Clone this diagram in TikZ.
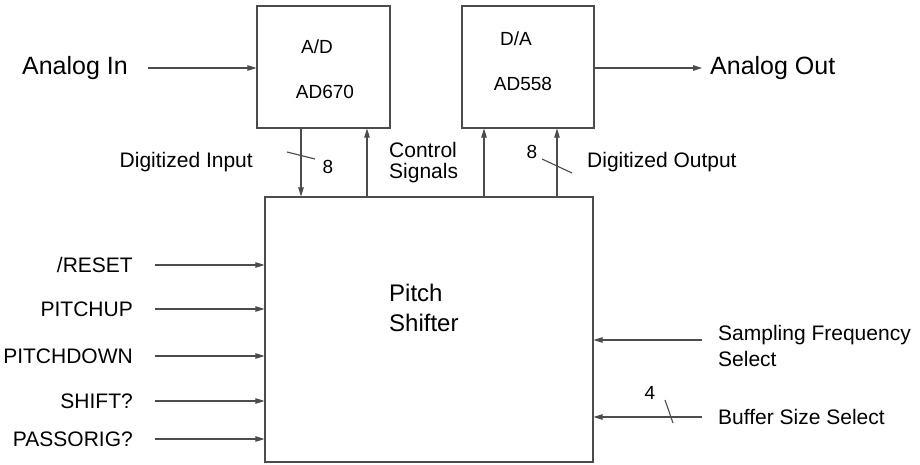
\documentclass[tikz,border=0pt]{standalone}
\usepackage{fontspec}
\setmainfont{Liberation Sans}
\usetikzlibrary{arrows.meta,positioning}

\begin{document}
\begin{tikzpicture}[x=1pt, y=-1pt,
    block/.style={draw=black!70, line width=1.1pt, inner sep=0pt},
    arr/.style={-{Triangle[length=9pt,width=5.5pt]}, line width=1.1pt, draw=black!70},
    bus/.style={line width=1.1pt, draw=black!70},
    sig/.style={font=\fontsize{21}{26}\selectfont, text=black, inner sep=0pt},
    big/.style={font=\fontsize{25}{28}\selectfont, text=black, inner sep=0pt},
    chip/.style={font=\fontsize{19}{22}\selectfont, text=black, inner sep=0pt}
]
\useasboundingbox (0,0) rectangle (920,465);

% converter chips and the main block
\node[block, minimum width=133pt, minimum height=122pt] (ad) at (323.5,67) {};
\node[block, minimum width=132pt, minimum height=122pt] (da) at (528,67) {};
\node[block, minimum width=328pt, minimum height=265pt] (ps) at (429,329.5) {};

\node[chip] (adname) at (317,46.5) {A/D};
\node[chip] (adpart) at (325,91.5) {AD670};
\node[chip] (daname) at (516,39) {D/A};
\node[chip] (dapart) at (523,84) {AD558};
\node[font=\fontsize{24}{30}\selectfont, text=black, inner sep=0pt, align=left, anchor=west] (psname) at (389,308) {Pitch\\Shifter};

% analog path
\node[big, anchor=east, inner xsep=20pt] (ain) at (148,68) {Analog In};
\draw[arr] (ain) -- (ain -| ad.west);
\node[big, anchor=west, inner xsep=8pt] (aout) at (702,68) {Analog Out};
\draw[arr] (aout -| da.east) -- (aout);

% digital links between chips and block
\draw[arr] ([xshift=-22.5pt]ad.south) -- ([xshift=-22.5pt]ad.south |- ps.north);
\draw[arr] ([xshift=43.5pt]ad.south |- ps.north) -- ([xshift=43.5pt]ad.south);
\draw[arr] ([xshift=-44pt]da.south |- ps.north) -- ([xshift=-44pt]da.south);
\draw[arr] ([xshift=29pt]da.south |- ps.north) -- ([xshift=29pt]da.south);
\draw[bus] (287,152) -- (315,159);
\draw[bus] (542,159) -- (572,173);
\node[chip] (nin) at (328,167) {8};
\node[chip] (nout) at (532,152) {8};
\node[sig, anchor=east] (din) at (253,162) {Digitized Input};
\node[sig, anchor=west] (dout) at (587,162) {Digitized Output};
\node[sig, anchor=west, align=left, font=\fontsize{21}{21}\selectfont] (ctrl) at (389,162.5) {Control\\Signals};

% control inputs
\foreach \name/\txt/\y in {reset/{/RESET}/265, up/PITCHUP/309, down/PITCHDOWN/356, shift/SHIFT?/401, orig/PASSORIG?/439}{
  \node[sig, anchor=east, inner xsep=22pt] (\name) at (155,\y) {\txt};
  \draw[arr] (\name) -- (\name -| ps.west);
}

\node[sig, anchor=west, inner xsep=16pt, align=left] (sfs) at (702,346) {Sampling Frequency\\Select};
\draw[arr] ([yshift=6pt]sfs.west) -- ([yshift=6pt]sfs.west -| ps.east);
\node[sig, anchor=west, inner xsep=16pt] (bss) at (702,417) {Buffer Size Select};
\draw[arr] (bss) -- (bss -| ps.east);
\draw[bus] (665,400) -- (673,423);
\node[chip] (nbuf) at (650,393) {4};
\end{tikzpicture}
\end{document}
